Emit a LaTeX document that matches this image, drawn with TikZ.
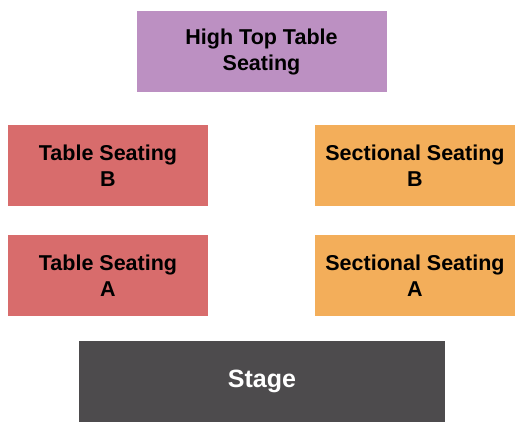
\documentclass[tikz,border=0pt]{standalone}
\usepackage{fontspec}
\setmainfont{Liberation Sans}
\usepackage{tikz}
\usetikzlibrary{positioning}

\definecolor{hightop}{RGB}{188,144,194}
\definecolor{tablered}{RGB}{216,108,108}
\definecolor{sectional}{RGB}{243,174,90}
\definecolor{stagegray}{RGB}{77,75,77}

\begin{document}
\begin{tikzpicture}[x=1pt,y=-1pt,
		section/.style={inner sep=0pt, align=center, minimum height=81pt,
			font=\bfseries\fontsize{21.5}{26}\selectfont},
		seatbox/.style={section, minimum width=200pt}]
		\fill[white] (0,0) rectangle (525,430);
		\useasboundingbox (0,0) rectangle (525,430);
		
		\node[section, fill=hightop, minimum width=250pt]	(high top)	at (261.5,51.5)	{High Top Table\\Seating};
		
		\node[seatbox, fill=tablered]	(table B)	at (108,165.5)	{Table Seating\\B};
		\node[seatbox, fill=sectional]	(sectional B)	at (415,165.5)	{Sectional Seating\\B};
		\node[seatbox, fill=tablered]	(table A)	at (108,275.5)	{Table Seating\\A};
		\node[seatbox, fill=sectional]	(sectional A)	at (415,275.5)	{Sectional Seating\\A};
		
		\node[section, fill=stagegray, text=white, minimum width=366pt,
			font=\bfseries\fontsize{25}{30}\selectfont]	(stage)	at (262,381.5)	{Stage};
		
		\end{tikzpicture}
\end{document}
